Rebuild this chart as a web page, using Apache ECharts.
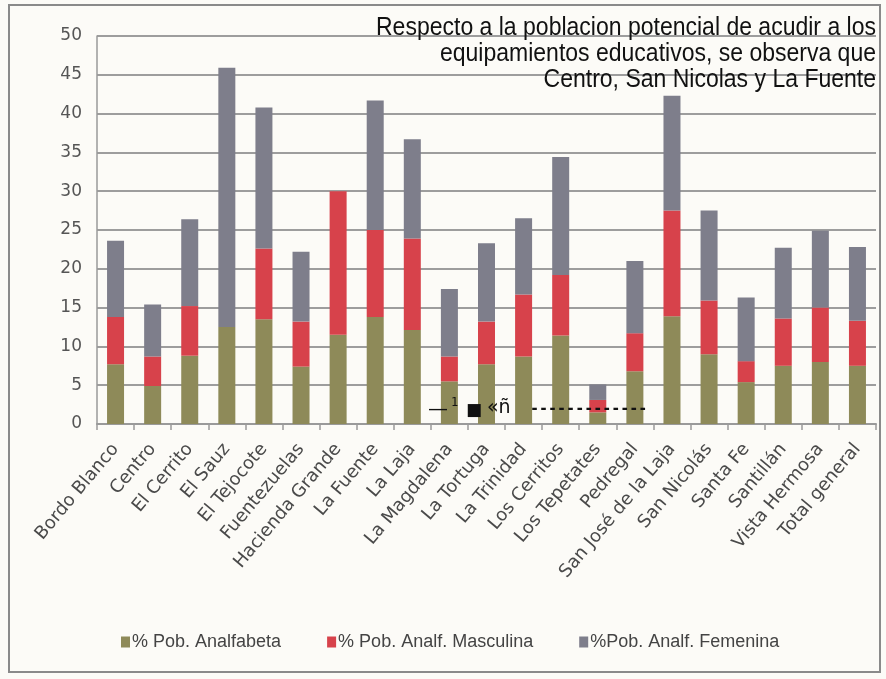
<!DOCTYPE html>
<html>
<head>
<meta charset="utf-8">
<script src="https://cdn.jsdelivr.net/npm/echarts@6/dist/echarts.min.js"></script>
<style>
  html, body { margin: 0; padding: 0; background: #fcfbf7; }
  #chart { width: 886px; height: 679px; }
</style>
</head>
<body>
<div id="chart"></div>
<script>
// Localidades
const categories = [
  'Bordo Blanco', 'Centro', 'El Cerrito', 'El Sauz', 'El Tejocote', 'Fuentezuelas',
  'Hacienda Grande', 'La Fuente', 'La Laja', 'La Magdalena', 'La Tortuga', 'La Trinidad',
  'Los Cerritos', 'Los Tepetates', 'Pedregal', 'San José de la Laja', 'San Nicolás',
  'Santa Fe', 'Santillán', 'Vista Hermosa', 'Total general'
];

// Segmentos apilados (%)
const analfabeta = [7.7, 4.9, 8.8, 12.5, 13.5, 7.4, 11.5, 13.8, 12.1, 5.5, 7.7, 8.7, 11.4, 1.5, 6.8, 13.9, 9.0, 5.4, 7.5, 8.0, 7.5];
const masculina  = [6.1, 3.8, 6.4, 0,    9.1,  5.8, 18.5, 11.2, 11.8, 3.2, 5.5, 8.0, 7.8,  1.6, 4.9, 13.6, 6.9, 2.7, 6.1, 7.0, 5.8];
const femenina   = [9.8, 6.7, 11.2, 33.4, 18.2, 9.0, 0,   16.7, 12.8, 8.7, 10.1, 9.8, 15.2, 2.0, 9.3, 14.8, 11.6, 8.2, 9.1, 9.9, 9.5];

const seriesNames = ['% Pob. Analfabeta', '% Pob. Analf. Masculina', '%Pob. Analf. Femenina'];
const colors = ['#8e8a59', '#d7424b', '#7e7e8b'];

const noteLines = [
  'Respecto a la poblacion potencial de acudir a los',
  'equipamientos educativos, se observa que',
  'Centro, San Nicolas y La Fuente'
];

// Narrow look for the note: squeeze a regular sans horizontally
const noteFont = '26px "Liberation Sans", Arial, sans-serif';
const measure = document.createElement('canvas').getContext('2d');
measure.font = noteFont;
const noteWidth = measure.measureText(noteLines[0]).width;
const noteScale = 500 / noteWidth;

const chart = echarts.init(document.getElementById('chart'), null, { renderer: 'canvas' });

const mkSeries = (name, data, color) => ({
  name, type: 'bar', stack: 'total', data,
  barWidth: 17,
  itemStyle: { color },
  emphasis: { disabled: true }
});

chart.setOption({
  animation: false,
  backgroundColor: '#fcfbf7',
  color: colors,
  grid: { left: 97, right: 10, top: 36, bottom: 255, containLabel: false },
  xAxis: {
    type: 'category',
    data: categories,
    axisLine: { lineStyle: { color: '#9a9a9a', width: 2 } },
    axisTick: { show: true, length: 6, lineStyle: { color: '#9a9a9a', width: 1.5 } },
    axisLabel: {
      rotate: 50, interval: 0, margin: 22,
      color: '#4a4a4a', fontFamily: 'DejaVu Sans', fontSize: 18
    }
  },
  yAxis: {
    type: 'value', min: 0, max: 50, interval: 5,
    axisLine: { show: true, lineStyle: { color: '#9a9a9a', width: 1.5 } },
    axisTick: { show: false },
    splitLine: { lineStyle: { color: '#9d9d9d', width: 2 } },
    axisLabel: { margin: 15, color: '#555', fontFamily: 'DejaVu Sans', fontSize: 17 }
  },
  legend: {
    data: seriesNames,
    left: 116, top: 628,
    itemWidth: 9, itemHeight: 11, itemGap: 46,
    icon: 'rect',
    textStyle: { color: '#444', fontFamily: 'Liberation Sans, Arial, sans-serif', fontSize: 18, padding: [0, 0, 0, -3] }
  },
  series: [
    mkSeries(seriesNames[0], analfabeta, colors[0]),
    mkSeries(seriesNames[1], masculina, colors[1]),
    mkSeries(seriesNames[2], femenina, colors[2])
  ],
  graphic: [
    {
      type: 'rect', silent: true, z: -1,
      shape: { x: 9, y: 5, width: 871, height: 667 },
      style: { fill: 'none', stroke: '#8a8a8a', lineWidth: 2 }
    },
    {
      type: 'text', x: 876, y: 15, scaleX: noteScale, z: 10,
      style: {
        text: noteLines.join('\n'),
        align: 'right',
        verticalAlign: 'top',
        fill: '#111',
        font: noteFont,
        lineHeight: 26
      }
    },
    {
      type: 'text', x: 428, y: 400, z: 10,
      style: { text: '—', fill: '#111', font: '20px "DejaVu Sans", sans-serif' }
    },
    {
      type: 'text', x: 451, y: 397, z: 10,
      style: { text: '1', fill: '#111', font: '12px "DejaVu Sans Mono", monospace' }
    },
    {
      type: 'text', x: 466, y: 402, z: 10,
      style: { text: '■', fill: '#111', font: '17px "DejaVu Sans", sans-serif' }
    },
    {
      type: 'text', x: 487, y: 399, z: 10,
      style: { text: '«ñ', fill: '#111', font: '19px "DejaVu Sans", sans-serif' }
    },
    {
      type: 'text', x: 530, y: 402, z: 10,
      style: { text: '-------------', fill: '#111', font: 'bold 15px "DejaVu Sans Mono", monospace' }
    }
  ]
});
</script>
</body>
</html>
